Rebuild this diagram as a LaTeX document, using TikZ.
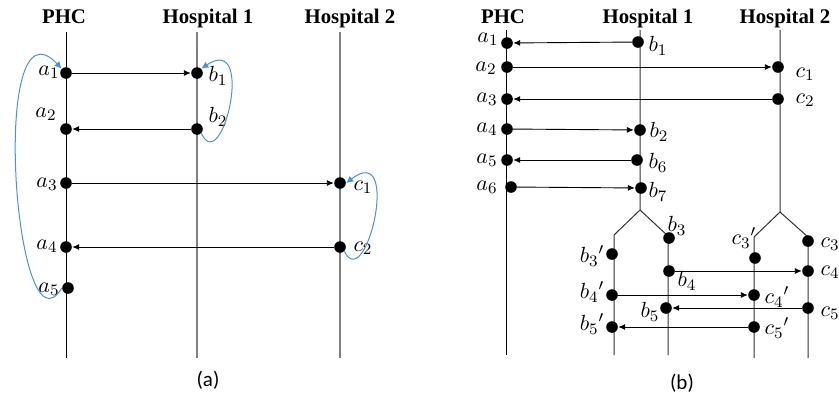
\documentclass[tikz,border=0pt]{standalone}
\usepackage{fontspec}
\usetikzlibrary{arrows.meta}
\newfontfamily\cabecera{Liberation Serif}
\newfontfamily\leyenda{Carlito}
\definecolor{azulLazo}{RGB}{74,144,230}
\definecolor{grisVida}{RGB}{127,127,127}
\definecolor{grisOscuro}{RGB}{50,50,50}

\begin{document}
\begin{tikzpicture}[
    x=0.5pt, y=-0.5pt,
    titulo/.style={
        font=\cabecera\bfseries\fontsize{10.4}{12}\selectfont,
        anchor=base,
        inner sep=0pt
    },
    etiq/.style={
        font=\fontsize{11}{12}\selectfont,
        inner sep=0pt
    },
    punto/.style={
        circle,
        fill=black,
        inner sep=0pt,
        minimum size=5.8pt
    },
    flecha/.style={
        -{Latex[length=3.5pt,width=3pt]},
        line width=0.45pt
    },
    lazo/.style={
        -{Latex[length=3.5pt,width=3.5pt]},
        draw=azulLazo,
        line width=0.5pt
    },
    vidaPHC/.style={line width=0.5pt},
    vidaA/.style={draw=grisVida, line width=0.9pt},
    vidaB/.style={draw=grisOscuro, line width=0.5pt}
]
    \useasboundingbox (0,0) rectangle (839,398);

    % ---------------- (a) ----------------
    \node[titulo] (phcA) at (64,23) {PHC};
    \node[titulo] (hospUnoA) at (208,23) {Hospital 1};
    \node[titulo] (hospDosA) at (350,23) {Hospital 2};

    \coordinate (phcAini) at (66,32);   \coordinate (phcAfin) at (66,358);
    \coordinate (hUnoAini) at (197,32); \coordinate (hUnoAfin) at (197,358);
    \coordinate (hDosAini) at (340,32); \coordinate (hDosAfin) at (340,358);
    \draw[vidaA] (hUnoAini) -- (hUnoAfin);
    \draw[vidaA] (hDosAini) -- (hDosAfin);
    \draw[vidaPHC] (phcAini) -- (phcAfin);

    \node[punto] (aUno) at (66,73) {};
    \node[punto] (aDos) at (66,129) {};
    \node[punto] (aTres) at (66,183) {};
    \node[punto] (aCuatro) at (66,247) {};
    \node[punto] (aCinco) at (68,288) {};
    \node[punto] (bUno) at (197,73) {};
    \node[punto] (bDos) at (197,129) {};
    \node[punto] (cUno) at (340,183) {};
    \node[punto] (cDos) at (340,247) {};

    \node[etiq] (laUno) at (49,72) {$a_1$};
    \node[etiq] (laDos) at (46,114) {$a_2$};
    \node[etiq] (laTres) at (47,184) {$a_3$};
    \node[etiq] (laCuatro) at (47,246) {$a_4$};
    \node[etiq] (laCinco) at (49,289) {$a_5$};
    \node[etiq] (lbUno) at (218,76) {$b_1$};
    \node[etiq] (lbDos) at (218,117) {$b_2$};
    \node[etiq] (lcUno) at (363,187) {$c_1$};
    \node[etiq] (lcDos) at (363,248) {$c_2$};

    \draw[flecha] (aUno) -- (bUno);
    \draw[flecha] (bDos) -- (aDos);
    \draw[flecha] (aTres) -- (cUno);
    \draw[flecha] (cDos) -- (aCuatro);

    \draw[lazo] (aCinco.west) .. controls (15,365) and (-12,-10) .. (aUno.north west);
    \draw[lazo] (bDos.south east) .. controls (222,178) and (256,32) .. (bUno.north east);
    \draw[lazo] (cDos.south east) .. controls (366,295) and (402,140) .. (cUno.east);

    \node[etiq, font=\leyenda\fontsize{10.5}{12}\selectfont] (capA) at (208,380) {(a)};

    % ---------------- (b) ----------------
    \node[titulo] (phcB) at (503,23) {PHC};
    \node[titulo] (hospUnoB) at (648,23) {Hospital 1};
    \node[titulo] (hospDosB) at (785,23) {Hospital 2};

    \coordinate (phcBini) at (506,30);  \coordinate (phcBfin) at (506,355);
    \coordinate (hUnoBini) at (640,30); \coordinate (hUnoBrama) at (640,210);
    \coordinate (hUnoBizq) at (614,235); \coordinate (hUnoBizqFin) at (614,355);
    \coordinate (hUnoBder) at (668,236); \coordinate (hUnoBderFin) at (668,355);
    \coordinate (hDosBini) at (780,30); \coordinate (hDosBrama) at (780,212);
    \coordinate (hDosBizq) at (754,237); \coordinate (hDosBizqFin) at (754,358);
    \coordinate (hDosBder) at (808,237); \coordinate (hDosBderFin) at (808,358);
    \draw[vidaPHC] (phcBini) -- (phcBfin);
    \draw[vidaB] (hUnoBini) -- (hUnoBrama) -- (hUnoBizq) -- (hUnoBizqFin);
    \draw[vidaB] (hUnoBrama) -- (hUnoBder) -- (hUnoBderFin);
    \draw[vidaB] (hDosBini) -- (hDosBrama) -- (hDosBizq) -- (hDosBizqFin);
    \draw[vidaB] (hDosBrama) -- (hDosBder) -- (hDosBderFin);

    \node[punto] (pa1) at (507,43) {};
    \node[punto] (pa2) at (507,67) {};
    \node[punto] (pa3) at (507,99) {};
    \node[punto] (pa4) at (507,129) {};
    \node[punto] (pa5) at (507,160) {};
    \node[punto] (pa6) at (511,187) {};
    \node[punto] (pb1) at (638,42) {};
    \node[punto] (pb2) at (640,130) {};
    \node[punto] (pb6) at (637,160) {};
    \node[punto] (pb7) at (641,188) {};
    \node[punto] (pb3) at (669,238) {};
    \node[punto] (pb3p) at (612,254) {};
    \node[punto] (pb4) at (669,271) {};
    \node[punto] (pb4p) at (612,295) {};
    \node[punto] (pb5) at (666,308) {};
    \node[punto] (pb5p) at (612,327) {};
    \node[punto] (pc1) at (778,67) {};
    \node[punto] (pc2) at (778,99) {};
    \node[punto] (pc3) at (808,241) {};
    \node[punto] (pc3p) at (755,258) {};
    \node[punto] (pc4) at (808,271) {};
    \node[punto] (pc4p) at (754,295) {};
    \node[punto] (pc5) at (808,308) {};
    \node[punto] (pc5p) at (754,327) {};

    \node[etiq] (la1) at (488,39) {$a_1$};
    \node[etiq] (la2) at (486,68) {$a_2$};
    \node[etiq] (la3) at (487,99) {$a_3$};
    \node[etiq] (la4) at (487,129) {$a_4$};
    \node[etiq] (la5) at (487,160) {$a_5$};
    \node[etiq] (la6) at (487,187) {$a_6$};
    \node[etiq] (lb1) at (658,46) {$b_1$};
    \node[etiq] (lb2) at (659,132) {$b_2$};
    \node[etiq] (lb6) at (658,163) {$b_6$};
    \node[etiq] (lb7) at (658,192) {$b_7$};
    \node[etiq] (lb3) at (677,226) {$b_3$};
    \node[etiq] (lb3p) at (592,256) {$b_3{}'$};
    \node[etiq] (lb4) at (687,281) {$b_4$};
    \node[etiq] (lb4p) at (592,292) {$b_4{}'$};
    \node[etiq] (lb5) at (650,312) {$b_5$};
    \node[etiq] (lb5p) at (592,324) {$b_5{}'$};
    \node[etiq] (lc1) at (805,74) {$c_1$};
    \node[etiq] (lc2) at (805,100) {$c_2$};
    \node[etiq] (lc3) at (830,244) {$c_3$};
    \node[etiq] (lc3p) at (744,238) {$c_3{}'$};
    \node[etiq] (lc4) at (830,272) {$c_4$};
    \node[etiq] (lc4p) at (777,297) {$c_4{}'$};
    \node[etiq] (lc5) at (830,313) {$c_5$};
    \node[etiq] (lc5p) at (777,328) {$c_5{}'$};

    \draw[flecha] (pb1) -- (pa1);
    \draw[flecha] (pa2) -- (pc1);
    \draw[flecha] (pc2) -- (pa3);
    \draw[flecha] (pa4) -- (pb2);
    \draw[flecha] (pb6) -- (pa5);
    \draw[flecha] (pa6) -- (pb7);
    \draw[flecha] (pb4) -- (pc4);
    \draw[flecha] (pb4p) -- (pc4p);
    \draw[flecha] (pc5) -- (pb5);
    \draw[flecha] (pc5p) -- (pb5p);

    \node[etiq, font=\leyenda\fontsize{10.5}{12}\selectfont] (capB) at (682,383) {(b)};

\end{tikzpicture}
\end{document}
